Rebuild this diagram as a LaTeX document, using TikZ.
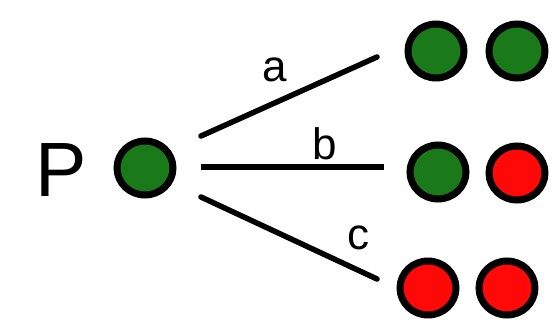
\documentclass[tikz,border=0pt]{standalone}
\usepackage{fontspec}
\setmainfont{Liberation Sans}
\usetikzlibrary{shapes.geometric}
\definecolor{dotgreen}{RGB}{26,122,26}
\definecolor{dotred}{RGB}{255,8,8}
\tikzset{
  dot/.style={ellipse,draw=black,line width=7pt,inner sep=0pt,minimum width=56pt,minimum height=54pt},
  gdot/.style={dot,fill=dotgreen},
  rdot/.style={dot,fill=dotred},
  branch/.style={line width=5.5pt,line cap=round},
  lbl/.style={inner sep=0pt,font=\fontsize{44}{48}\selectfont}
}
\begin{document}
\begin{tikzpicture}[x=1pt,y=-1pt]
\useasboundingbox (0,0) rectangle (552,324);
\node[inner sep=0pt,font=\fontsize{77}{80}\selectfont] (P) at (61,170) {P};
\node[gdot] (p) at (145,168) {};
\node[gdot] (a1) at (436,51) {};
\node[gdot] (a2) at (517,51) {};
\node[gdot] (b1) at (438,172) {};
\node[rdot] (b2) at (517,173) {};
\node[rdot] (c1) at (428,288) {};
\node[rdot] (c2) at (507,288) {};
\coordinate (sa) at (201,136);
\coordinate (ea) at (377,57);
\coordinate (sb) at (201,167);
\coordinate (eb) at (384,167);
\coordinate (sc) at (201,197);
\coordinate (ec) at (377,279);
\draw[branch] (sa) -- (ea);
\draw[branch,line cap=butt] (sb) -- (eb);
\draw[branch] (sc) -- (ec);
\node[lbl] (la) at (275,70) {a};
\node[lbl] (lb) at (325,144) {b};
\node[lbl] (lc) at (358,238) {c};
\end{tikzpicture}
\end{document}
